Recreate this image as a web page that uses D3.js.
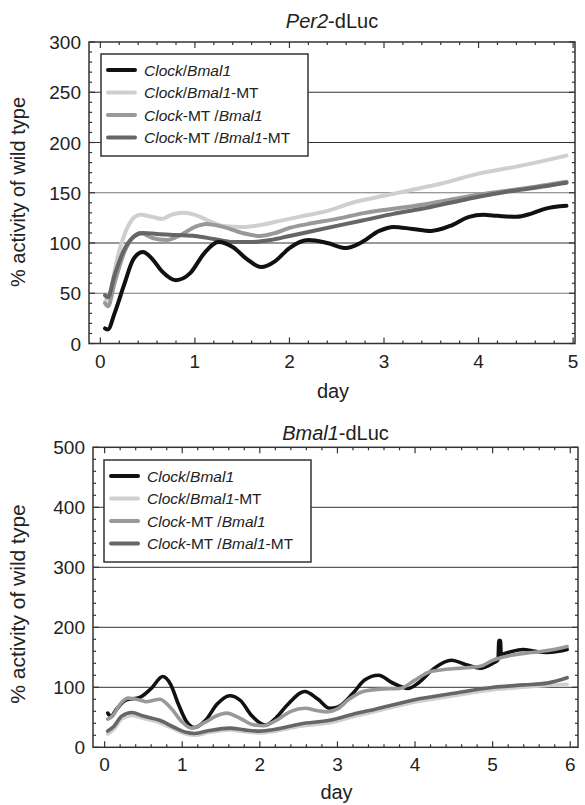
<!DOCTYPE html>
<html>
<head>
<meta charset="utf-8">
<script src="https://cdn.jsdelivr.net/npm/d3@7"></script>
<style>
  body { margin: 0; background: #fff; }
  svg text { font-family: "Liberation Sans", Arial, Helvetica, sans-serif; fill: #222; }
</style>
</head>
<body>
<div id="wrapper"></div>
<script>
// series names (legend)
const seriesNames = [
  [["Clock", true], ["/", false], ["Bmal1", true]],
  [["Clock", true], ["/", false], ["Bmal1", true], ["-MT", false]],
  [["Clock", true], ["-MT /", false], ["Bmal1", true]],
  [["Clock", true], ["-MT /", false], ["Bmal1", true], ["-MT", false]]
]
const seriesColors = ["#111111", "#cfcfcf", "#999999", "#666666"]

// Per2-dLuc, [day, % activity]
const per2ClockBmal1 = [[0.05,15],[0.08,14],[0.15,30],[0.25,58],[0.35,84],[0.45,91],[0.55,84],[0.65,72],[0.8,63],[0.95,70],[1.1,90],[1.25,101],[1.4,96],[1.55,84],[1.7,76],[1.85,82],[2.0,95],[2.2,103],[2.4,100],[2.6,95],[2.75,100],[2.95,112],[3.1,116],[3.3,114],[3.5,112],[3.7,117],[3.9,126],[4.05,128],[4.2,127],[4.4,126],[4.55,129],[4.7,134],[4.93,137]]
const per2ClockBmal1MT = [[0.05,42],[0.1,50],[0.18,85],[0.3,118],[0.42,128],[0.55,126],[0.65,124],[0.75,128],[0.88,130],[1.0,128],[1.15,122],[1.3,117],[1.5,116],[1.7,118],[1.9,122],[2.1,126],[2.4,132],[2.7,141],[3.0,147],[3.3,153],[3.6,159],[4.0,169],[4.4,176],[4.7,182],[4.93,187]]
const per2ClockMTBmal1 = [[0.05,40],[0.08,37],[0.15,60],[0.25,90],[0.35,106],[0.42,110],[0.55,105],[0.7,103],[0.85,108],[1.0,116],[1.12,119],[1.3,116],[1.5,110],[1.69,107],[1.85,110],[2.0,115],[2.2,119],[2.5,124],[2.8,130],[3.1,134],[3.4,138],[3.7,143],[4.0,148],[4.3,152],[4.6,156],[4.93,161]]
const per2ClockMTBmal1MT = [[0.05,48],[0.08,46],[0.15,68],[0.25,93],[0.35,106],[0.45,110],[0.6,109],[0.8,108],[1.0,107],[1.2,104],[1.4,101],[1.6,101],[1.8,103],[2.0,107],[2.2,111],[2.5,117],[2.8,123],[3.1,129],[3.4,134],[3.7,140],[4.0,146],[4.3,151],[4.6,155],[4.93,160]]

// Bmal1-dLuc, [day, % activity]
const bmalClockBmal1 = [[0.04,57],[0.08,52],[0.15,63],[0.28,79],[0.45,83],[0.6,98],[0.75,118],[0.85,105],[0.95,72],[1.05,44],[1.16,33],[1.3,45],[1.45,72],[1.61,86],[1.75,78],[1.9,52],[2.07,37],[2.2,48],[2.35,70],[2.58,93],[2.75,80],[2.9,65],[3.0,67],[3.2,90],[3.35,112],[3.53,120],[3.7,108],[3.91,98],[4.05,108],[4.25,132],[4.47,145],[4.65,138],[4.84,132],[5.0,140],[5.07,146],[5.08,178],[5.1,178],[5.11,155],[5.2,158],[5.39,163],[5.55,160],[5.69,158],[5.85,160],[5.96,163]]
const bmalClockBmal1MT = [[0.04,22],[0.12,30],[0.22,47],[0.35,53],[0.5,48],[0.71,41],[0.9,30],[1.05,22],[1.16,20],[1.35,25],[1.61,29],[1.8,26],[2.0,24],[2.2,27],[2.52,35],[2.9,41],[3.2,51],[3.5,60],[3.98,75],[4.5,86],[5.01,96],[5.4,100],[5.7,103],[5.96,105]]
const bmalClockMTBmal1 = [[0.04,47],[0.1,52],[0.2,72],[0.3,82],[0.45,79],[0.54,76],[0.62,78],[0.71,80],[0.85,66],[1.0,42],[1.12,32],[1.3,42],[1.45,53],[1.57,57],[1.75,48],[1.9,38],[2.05,36],[2.2,44],[2.4,60],[2.58,65],[2.75,61],[2.86,59],[3.0,64],[3.15,80],[3.33,93],[3.55,97],[3.8,98],[4.0,112],[4.19,126],[4.4,130],[4.6,132],[4.84,135],[5.0,145],[5.27,154],[5.5,158],[5.75,162],[5.96,168]]
const bmalClockMTBmal1MT = [[0.04,27],[0.12,35],[0.22,52],[0.35,58],[0.5,52],[0.71,45],[0.9,33],[1.05,25],[1.16,23],[1.35,28],[1.61,32],[1.8,29],[2.0,27],[2.2,30],[2.52,39],[2.9,45],[3.2,55],[3.5,64],[3.98,79],[4.5,90],[5.01,100],[5.4,104],[5.7,107],[5.96,116]]

const per2XTicks = [0, 1, 2, 3, 4, 5]
const per2YTicks = [0, 50, 100, 150, 200, 250, 300]
const bmalXTicks = [0, 1, 2, 3, 4, 5, 6]
const bmalYTicks = [0, 100, 200, 300, 400, 500]

const svg = d3.select("#wrapper")
  .append("svg")
  .attr("width", 585)
  .attr("height", 805)

function drawPanel(opt) {
  const g = svg.append("g")
  const x = d3.scaleLinear().domain(opt.xDomain).range([opt.left, opt.right])
  const y = d3.scaleLinear().domain(opt.yDomain).range([opt.bottom, opt.top])

  // grid lines
  g.selectAll(".grid")
    .data(opt.yTicks.filter(v => v > opt.yDomain[0] && v < opt.yDomain[1]))
    .enter().append("line")
    .attr("x1", opt.left).attr("x2", opt.right)
    .attr("y1", d => y(d)).attr("y2", d => y(d))
    .attr("stroke", d => opt.greyGrid.includes(d) ? "#777" : "#333")
    .attr("stroke-width", 1)

  // inward ticks on all four sides
  const xMinor = d3.range(0, opt.xTicks[opt.xTicks.length - 1] + 0.001, 0.2)
  const yMinor = d3.range(opt.yDomain[0], opt.yDomain[1] + 0.001, opt.yMinorStep)
  const tickG = g.append("g").attr("stroke", "#333").attr("stroke-width", 1.2)
  const isMajor = (v, list) => list.some(t => Math.abs(t - v) < 1e-6)
  tickG.selectAll(".xt").data(xMinor).enter().append("line")
    .attr("x1", d => x(d)).attr("x2", d => x(d))
    .attr("y1", opt.bottom).attr("y2", d => opt.bottom - (isMajor(d, opt.xTicks) ? 6 : 3))
  tickG.selectAll(".xtt").data(xMinor).enter().append("line")
    .attr("x1", d => x(d)).attr("x2", d => x(d))
    .attr("y1", opt.top).attr("y2", d => opt.top + (isMajor(d, opt.xTicks) ? 6 : 3))
  tickG.selectAll(".yt").data(yMinor).enter().append("line")
    .attr("y1", d => y(d)).attr("y2", d => y(d))
    .attr("x1", opt.left).attr("x2", d => opt.left + (isMajor(d, opt.yTicks) ? 6 : 3))
  tickG.selectAll(".ytr").data(yMinor).enter().append("line")
    .attr("y1", d => y(d)).attr("y2", d => y(d))
    .attr("x1", opt.right).attr("x2", d => opt.right - (isMajor(d, opt.yTicks) ? 6 : 3))

  // frame
  g.append("rect")
    .attr("x", opt.left).attr("y", opt.top)
    .attr("width", opt.right - opt.left).attr("height", opt.bottom - opt.top)
    .attr("fill", "none").attr("stroke", "#333").attr("stroke-width", 1.5)

  // tick labels
  g.selectAll(".xl").data(opt.xTicks).enter().append("text")
    .attr("x", d => x(d)).attr("y", opt.bottom + 24)
    .attr("text-anchor", "middle").attr("font-size", "19px")
    .text(d => d)
  g.selectAll(".yl").data(opt.yTicks).enter().append("text")
    .attr("x", opt.left - 8).attr("y", d => y(d) + 7)
    .attr("text-anchor", "end").attr("font-size", "19px")
    .text(d => d)

  // series lines
  const line = d3.line()
    .x(d => x(d[0]))
    .y(d => y(d[1]))
    .curve(d3.curveMonotoneX)
  const clip = "clip" + opt.id
  svg.append("clipPath").attr("id", clip)
    .append("rect").attr("x", opt.left).attr("y", opt.top)
    .attr("width", opt.right - opt.left).attr("height", opt.bottom - opt.top)
  g.append("g").attr("clip-path", `url(#${clip})`)
    .selectAll("path")
    .data(opt.drawOrder)
    .enter().append("path")
    .attr("d", i => line(opt.series[i]))
    .attr("fill", "none")
    .attr("stroke", i => seriesColors[i])
    .attr("stroke-width", opt.lineWidth)
    .attr("stroke-linejoin", "round")
    .attr("stroke-linecap", "round")

  // legend
  const lg = g.append("g")
  lg.append("rect")
    .attr("x", opt.legend.x).attr("y", opt.legend.y)
    .attr("width", opt.legend.w).attr("height", opt.legend.h)
    .attr("fill", "#fff").attr("stroke", "#333").attr("stroke-width", 1.5)
  seriesNames.forEach((parts, i) => {
    const cy = opt.legend.y + 16 + i * 22.5
    lg.append("line")
      .attr("x1", opt.legend.x + 7).attr("x2", opt.legend.x + 34)
      .attr("y1", cy).attr("y2", cy)
      .attr("stroke", seriesColors[i]).attr("stroke-width", 4)
      .attr("stroke-linecap", "round")
    const t = lg.append("text")
      .attr("x", opt.legend.x + 43).attr("y", cy + 5.5)
      .attr("font-size", "15.5px")
    parts.forEach(p => {
      t.append("tspan").attr("font-style", p[1] ? "italic" : "normal").text(p[0])
    })
  })

  // title
  const title = g.append("text")
    .attr("x", (opt.left + opt.right) / 2).attr("y", opt.titleY)
    .attr("text-anchor", "middle").attr("font-size", "20px")
  title.append("tspan").attr("font-style", "italic").text(opt.title[0])
  title.append("tspan").text(opt.title[1])

  // axis labels
  g.append("text")
    .attr("x", (opt.left + opt.right) / 2 + 1).attr("y", opt.dayY)
    .attr("text-anchor", "middle").attr("font-size", "20px")
    .text("day")
  g.append("text")
    .attr("transform", `translate(${opt.yLabelX},${opt.yLabelY}) rotate(-90)`)
    .attr("text-anchor", "middle").attr("font-size", opt.yLabelSize)
    .text("% activity of wild type")
}

drawPanel({
  id: "per2",
  left: 89, right: 575, top: 42, bottom: 343.5,
  xDomain: [-0.12, 5.02], yDomain: [0, 300],
  xTicks: per2XTicks, yTicks: per2YTicks, yMinorStep: 10,
  greyGrid: [50, 150],
  series: [per2ClockBmal1, per2ClockBmal1MT, per2ClockMTBmal1, per2ClockMTBmal1MT],
  drawOrder: [1, 2, 3, 0],
  lineWidth: 4,
  legend: { x: 101, y: 54, w: 207, h: 102 },
  title: ["Per2", "-dLuc"], titleY: 28,
  dayY: 398,
  yLabelX: 25, yLabelY: 192, yLabelSize: "20px"
})

drawPanel({
  id: "bmal",
  left: 93, right: 578, top: 447.3, bottom: 747.3,
  xDomain: [-0.15, 6.1], yDomain: [0, 500],
  xTicks: bmalXTicks, yTicks: bmalYTicks, yMinorStep: 20,
  greyGrid: [],
  series: [bmalClockBmal1, bmalClockBmal1MT, bmalClockMTBmal1, bmalClockMTBmal1MT],
  drawOrder: [1, 3, 0, 2],
  lineWidth: 3.6,
  legend: { x: 104, y: 460, w: 207, h: 102 },
  title: ["Bmal1", "-dLuc"], titleY: 440,
  dayY: 799,
  yLabelX: 25, yLabelY: 604, yLabelSize: "21px"
})
</script>
</body>
</html>
